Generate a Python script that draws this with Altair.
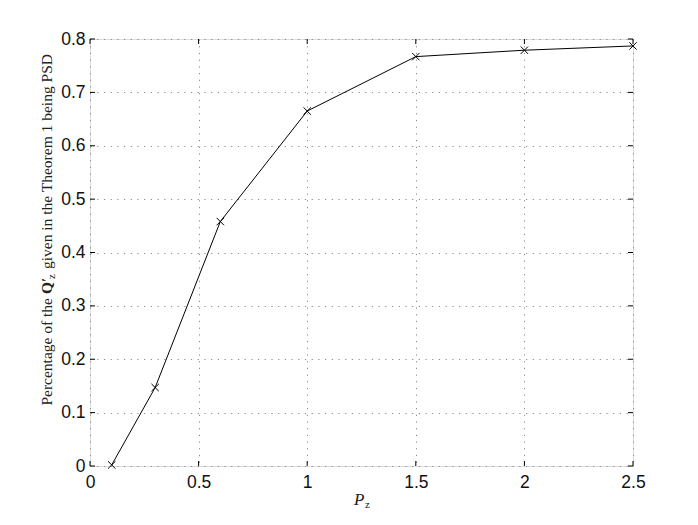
import altair as alt
import pandas as pd

pz = [0.1, 0.3, 0.6, 1.0, 1.5, 2.0, 2.5]
pct = [0.002, 0.147, 0.458, 0.665, 0.767, 0.779, 0.787]
x_ticks = [0, 0.5, 1, 1.5, 2, 2.5]
y_ticks = [0, 0.1, 0.2, 0.3, 0.4, 0.5, 0.6, 0.7, 0.8]

W, H = 543, 427
df = pd.DataFrame({"pz": pz, "pct": pct})
xs = alt.Scale(domain=[0, 2.5], nice=False, zero=False)
ys = alt.Scale(domain=[0, 0.8], nice=False, zero=False)

LBL = dict(labelFont="Liberation Sans", labelFontSize=17.5, labelColor="#111",
           labelFlush=False, tickSize=0, domain=False, format="~g", title=None,
           grid=True, gridColor="#8a8a8a", gridDash=[1.2, 5.5], gridWidth=1)

x_enc = alt.X("pz:Q", scale=xs, axis=alt.Axis(values=x_ticks, labelPadding=7, **LBL))
y_enc = alt.Y("pct:Q", scale=ys, axis=alt.Axis(values=y_ticks, labelPadding=5, **LBL))

line = alt.Chart(df).mark_line(color="black", strokeWidth=1).encode(x=x_enc, y=y_enc)
pts = alt.Chart(df).mark_point(
    shape="M-1,-1L1,1M1,-1L-1,1", size=55, filled=False, color="black", strokeWidth=1, opacity=1
).encode(x="pz:Q", y="pct:Q")

xt = pd.DataFrame({"v": x_ticks})
yt = pd.DataFrame({"v": y_ticks})
tk = 5
xb = alt.Chart(xt).mark_rule(color="black", strokeWidth=1).encode(
    x=alt.X("v:Q", scale=xs), y=alt.value(H), y2=alt.value(H - tk))
xtop = alt.Chart(xt).mark_rule(color="black", strokeWidth=1).encode(
    x=alt.X("v:Q", scale=xs), y=alt.value(0), y2=alt.value(tk))
yl = alt.Chart(yt).mark_rule(color="black", strokeWidth=1).encode(
    y=alt.Y("v:Q", scale=ys), x=alt.value(0), x2=alt.value(tk))
yr = alt.Chart(yt).mark_rule(color="black", strokeWidth=1).encode(
    y=alt.Y("v:Q", scale=ys), x=alt.value(W), x2=alt.value(W - tk))

# axis titles composed of text pieces (for bold Q and subscripts)
serif = "Liberation Serif"
tc = "#222"
TS = 15.5
bx = -38  # baseline of rotated y title (relative to plot left)
yt1 = alt.Chart().mark_text(text="Percentage of the", font=serif, fontSize=TS, angle=270,
                            align="right", baseline="alphabetic", color=tc).encode(
    x=alt.value(bx), y=alt.value(259))
yq = alt.Chart().mark_text(text="Q′", font=serif, fontSize=TS, fontWeight="bold", angle=270,
                           align="left", baseline="alphabetic", color=tc).encode(
    x=alt.value(bx), y=alt.value(255))
yz = alt.Chart().mark_text(text="z", font=serif, fontSize=11, angle=270,
                           align="left", baseline="alphabetic", color=tc).encode(
    x=alt.value(bx + 3), y=alt.value(240))
yt2 = alt.Chart().mark_text(text="given in the Theorem 1 being PSD", font=serif, fontSize=TS,
                            angle=270, align="left", baseline="alphabetic", color=tc).encode(
    x=alt.value(bx), y=alt.value(230))
xp = alt.Chart().mark_text(text="P", font=serif, fontSize=17, fontStyle="italic",
                           align="left", baseline="alphabetic", color=tc).encode(
    x=alt.value(264), y=alt.value(466))
xz = alt.Chart().mark_text(text="z", font=serif, fontSize=11,
                           align="left", baseline="alphabetic", color=tc).encode(
    x=alt.value(275), y=alt.value(469))

chart = alt.layer(line, xb, xtop, yl, yr, pts, yt1, yq, yz, yt2, xp, xz).properties(
    width=W, height=H,
    autosize=alt.AutoSizeParams(type="none"),
    padding={"left": 82, "top": 31, "right": 57, "bottom": 51},
).configure_view(stroke="black", strokeWidth=1.2).configure(background="white")

chart.save("out.html", embed_options={"renderer": "svg", "actions": False})
